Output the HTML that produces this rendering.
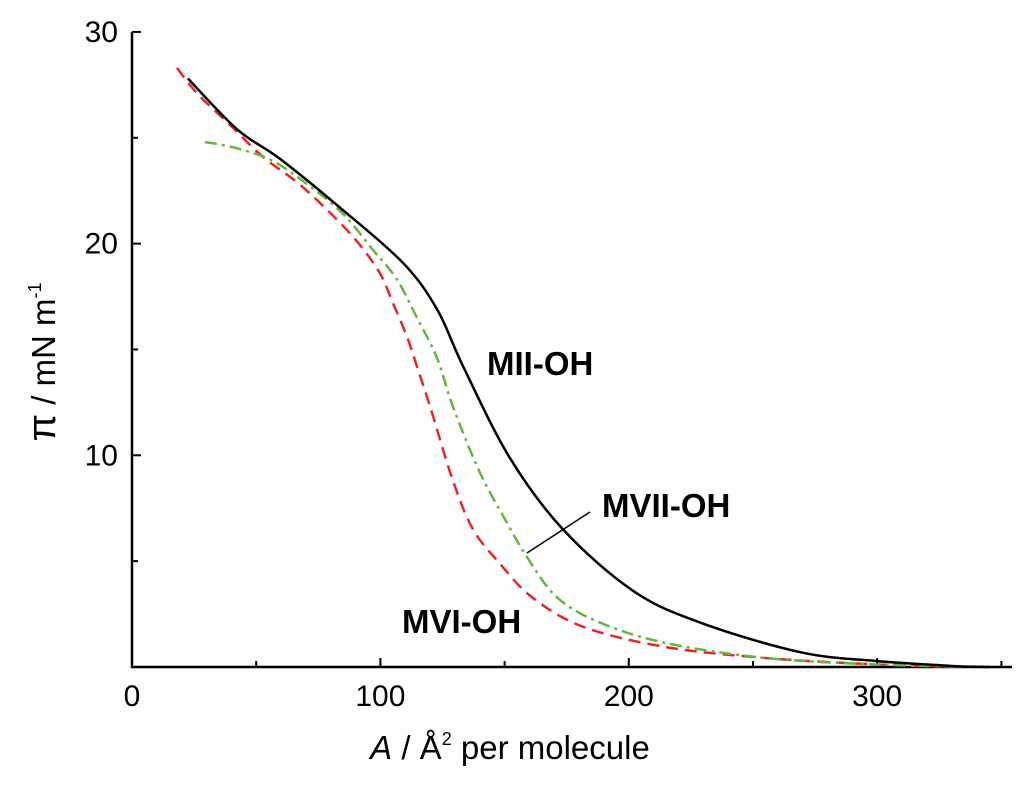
<!DOCTYPE html>
<html><head><meta charset="utf-8"><style>
body{margin:0;background:#fff;}
svg{display:block;font-family:"Liberation Sans",Arial,sans-serif;}
</style></head><body>
<svg id="chart" width="1024" height="785" viewBox="0 0 1024 785">
<g id="axes"></g>
<g id="series"></g>
<text x="487" y="375" font-size="33" font-weight="bold">MII-OH</text>
<text x="602" y="517" font-size="33" font-weight="bold">MVII-OH</text>
<text x="402" y="633" font-size="33" font-weight="bold">MVI-OH</text>
<line x1="527" y1="553" x2="590" y2="512" stroke="#000" stroke-width="1.5"/>
<text x="510" y="759" font-size="33" text-anchor="middle"><tspan font-style="italic">A</tspan> / Å<tspan font-size="18" dy="-14">2</tspan><tspan dy="14"> per molecule</tspan></text>
<text transform="translate(55,362) rotate(-90)" font-size="33" text-anchor="middle"><tspan font-size="40">π</tspan> / mN m<tspan font-size="18" dy="-14">-1</tspan></text>
</svg>
<script>
const xTicks=[0,100,200,300];
const xMinor=[50,150,250,350];
const yTicks=[10,20,30];
const yMinor=[5,15,25];
const miiA=[22.5,42.3,59.6,83.7,109,122.8,133.3,152,173.5,201.7,228.7,269,300,330,345];
const miiPi=[27.8,25.4,24.0,21.7,19.1,16.9,14.2,9.9,6.5,3.6,2.1,0.7,0.28,0.05,0];
const mviA=[18.1,26.2,39.5,52.7,66.4,78.5,90.6,99.8,105,110.7,114.7,120,129.2,137.3,148,161,181.6,215,255.6,300,335];
const mviPi=[28.3,27.1,25.6,24.1,22.9,21.6,20.1,18.6,17.2,15.6,14.2,12.3,8.8,6.5,4.9,3.3,1.9,0.94,0.42,0.12,0];
const mviiA=[29.4,42.3,56.8,71.7,85,97,106.7,114.7,122.8,129.2,140,151,159,171,188.4,215,255.6,300,342];
const mviiPi=[24.8,24.5,23.9,22.7,21.4,19.7,18.3,16.5,14.6,12.3,9.2,6.8,5.2,3.3,2.1,1.13,0.42,0.12,0];

const X=a=>132+a*2.484;
const Y=p=>667-p*21.17;
const NS="http://www.w3.org/2000/svg";
const axes=document.getElementById('axes');
const series=document.getElementById('series');
function mk(tag,attrs,parent){const e=document.createElementNS(NS,tag);for(const k in attrs)e.setAttribute(k,attrs[k]);parent.appendChild(e);return e;}

let e=mk('path',{d:`M${X(0)} ${Y(30)} V${Y(0)} H1012`,fill:'none',stroke:'#000','stroke-width':2.5},axes);


xTicks.forEach(v=>{
  let t=mk('line',{x1:X(v),x2:X(v),y1:Y(0),y2:Y(0)-9,stroke:'#000','stroke-width':2},axes);
  
  
  let l=mk('text',{x:X(v),y:706,'font-size':30,'text-anchor':'middle'},axes);l.textContent=v;
  
  
});
xMinor.forEach(v=>{
  let t=mk('line',{x1:X(v),x2:X(v),y1:Y(0),y2:Y(0)-6,stroke:'#000','stroke-width':2},axes);
  
  
});
yTicks.forEach(v=>{
  let t=mk('line',{x1:X(0),x2:X(0)+9,y1:Y(v),y2:Y(v),stroke:'#000','stroke-width':2},axes);
  
  
  let l=mk('text',{x:118,y:Y(v)+10,'font-size':30,'text-anchor':'end'},axes);l.textContent=v;
  
  
});
yMinor.forEach(v=>{
  let t=mk('line',{x1:X(0),x2:X(0)+6,y1:Y(v),y2:Y(v),stroke:'#000','stroke-width':2},axes);
  
  
});
function smooth(xs,ys){
  const p=xs.map((a,i)=>[X(a),Y(ys[i])]);
  let d=`M${p[0][0]} ${p[0][1]}`;
  for(let i=0;i<p.length-1;i++){
    const p0=p[Math.max(0,i-1)],p1=p[i],p2=p[i+1],p3=p[Math.min(p.length-1,i+2)];
    d+=` C${p1[0]+(p2[0]-p0[0])/6} ${p1[1]+(p2[1]-p0[1])/6} ${p2[0]-(p3[0]-p1[0])/6} ${p2[1]-(p3[1]-p1[1])/6} ${p2[0]} ${p2[1]}`;
  }
  return d;
}
let s1=mk('path',{d:smooth(mviA,mviPi),fill:'none',stroke:'#e8262a','stroke-width':2.5,'stroke-dasharray':'12 7'},series);


let s2=mk('path',{d:smooth(mviiA,mviiPi),fill:'none',stroke:'#62b83a','stroke-width':2.5,'stroke-dasharray':'12 5 3 5'},series);


let s3=mk('path',{d:smooth(miiA,miiPi),fill:'none',stroke:'#000','stroke-width':2.5},series);


</script>
</body></html>
